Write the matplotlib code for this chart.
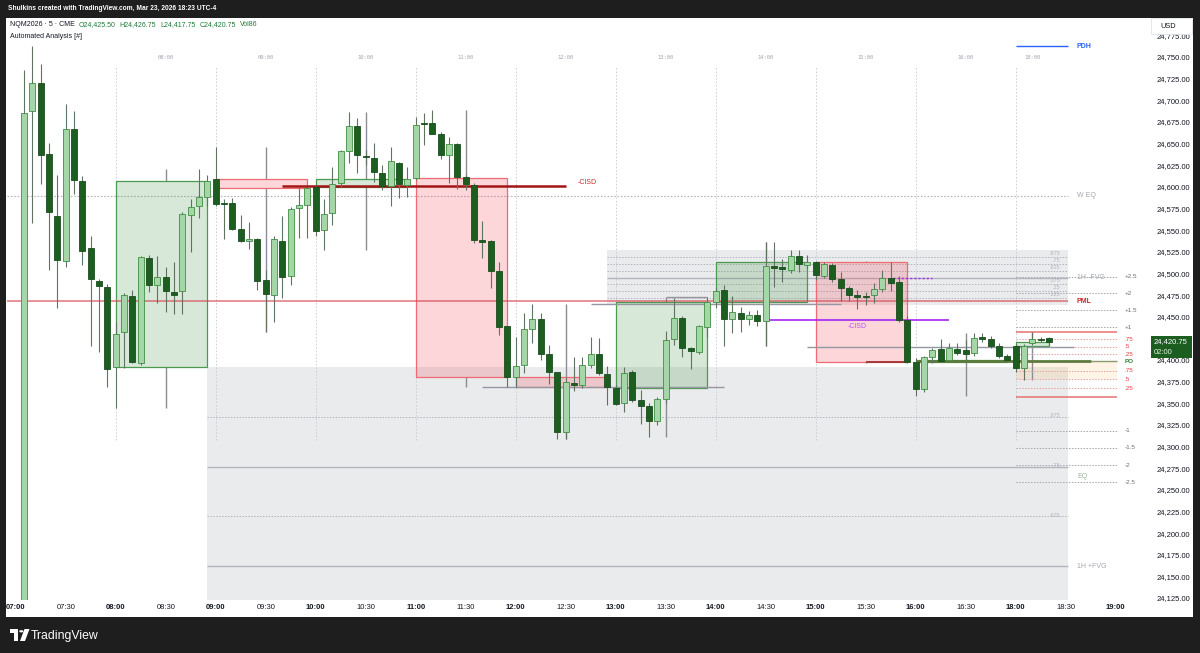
import matplotlib
matplotlib.use("Agg")
import matplotlib.pyplot as plt
from matplotlib.patches import Rectangle, Polygon, Circle
import numpy as np
import pandas as pd

plt.rcParams['font.family'] = ['Liberation Sans', 'DejaVu Sans']

# ---- data: NQM2026 5-minute bars (07:05 -> 16:55, then 18:00 -> 18:20) ----
times = ([t.strftime('%H:%M') for t in pd.date_range('07:05', '16:55', freq='5min')] +
         [t.strftime('%H:%M') for t in pd.date_range('18:00', '18:20', freq='5min')])

opens = [
    24090.0, 24688.0, 24719.6, 24637.6, 24566.6, 24514.7, 24666.8, 24606.7, 24529.3, 24491.5, 24483.9,
    24391.5, 24432.3, 24473.9, 24396.8, 24518.1, 24486.6, 24495.5, 24478.1, 24480.0, 24567.5, 24578.2, 24588.6,
    24608.7, 24581.0, 24581.0, 24550.9, 24537.1, 24540.3, 24492.4, 24475.0, 24537.8, 24497.0, 24575.2, 24578.7,
    24599.5, 24550.1, 24569.4, 24604.4, 24641.7, 24670.6, 24635.6, 24633.7, 24615.6, 24600.9, 24628.1, 24602.1,
    24610.5, 24672.9, 24673.4, 24661.4, 24636.4, 24649.1, 24611.0, 24601.8, 24537.4, 24537.1, 24502.4, 24438.9,
    24380.7, 24393.8, 24435.7, 24446.9, 24406.9, 24385.7, 24316.4, 24373.7, 24370.7, 24394.2, 24406.5, 24383.8,
    24367.9, 24349.9, 24386.4, 24353.7, 24347.1, 24329.8, 24354.5, 24423.8, 24448.8, 24414.2, 24408.8, 24438.4,
    24467.3, 24480.8, 24446.9, 24454.6, 24446.9, 24451.6, 24445.3, 24508.5, 24507.1, 24503.9, 24520.4, 24509.7,
    24513.5, 24497.3, 24509.7, 24493.2, 24482.8, 24474.5, 24473.3, 24475.0, 24481.6, 24494.3, 24489.7, 24446.1,
    24398.0, 24366.1, 24403.8, 24412.3, 24399.9, 24412.3, 24411.5, 24407.7, 24426.5, 24423.8, 24416.1, 24404.6,
    24416.1, 24390.3, 24419.9, 24423.8, 24425.5]
highs = [
    24735.0, 24762.7, 24741.9, 24650.3, 24613.7, 24695.7, 24687.6, 24612.5, 24543.2, 24493.5, 24488.1,
    24444.2, 24477.3, 24480.8, 24520.1, 24521.2, 24520.1, 24507.7, 24513.5, 24570.9, 24585.6, 24620.2, 24613.7,
    24646.4, 24586.3, 24586.7, 24567.5, 24559.7, 24540.9, 24503.9, 24543.2, 24566.3, 24577.0, 24598.3, 24599.0,
    24601.0, 24585.9, 24622.6, 24642.6, 24686.8, 24679.2, 24642.6, 24650.3, 24625.2, 24646.4, 24628.7, 24622.6,
    24680.3, 24684.9, 24688.7, 24663.7, 24657.9, 24650.3, 24613.7, 24604.1, 24560.9, 24538.6, 24512.8, 24439.2,
    24426.2, 24453.9, 24464.6, 24454.6, 24417.3, 24386.1, 24380.7, 24403.8, 24403.8, 24426.2, 24425.0, 24393.0,
    24371.1, 24392.2, 24388.4, 24365.3, 24350.3, 24357.2, 24433.8, 24471.2, 24450.8, 24415.3, 24440.4, 24473.1,
    24482.8, 24486.6, 24474.2, 24460.8, 24456.5, 24457.7, 24536.6, 24536.6, 24516.3, 24527.0, 24527.0, 24521.2,
    24514.7, 24513.5, 24512.0, 24501.3, 24485.4, 24480.8, 24478.5, 24488.5, 24503.9, 24513.5, 24497.0, 24450.8,
    24402.3, 24404.6, 24413.5, 24423.8, 24419.2, 24419.2, 24423.0, 24430.8, 24430.8, 24427.7, 24419.6, 24406.9,
    24418.4, 24418.4, 24431.9, 24426.5, 24426.75]
lows = [
    24085.0, 24558.6, 24603.3, 24503.9, 24460.4, 24507.7, 24591.4, 24509.4, 24416.1, 24408.8, 24369.1,
    24344.8, 24390.7, 24396.1, 24394.2, 24478.8, 24465.4, 24455.0, 24452.7, 24452.7, 24525.1, 24563.6, 24578.2,
    24577.9, 24539.4, 24550.1, 24536.3, 24528.2, 24480.8, 24431.9, 24443.5, 24471.2, 24486.6, 24540.9, 24540.5,
    24543.2, 24527.0, 24555.9, 24600.2, 24627.2, 24615.6, 24625.2, 24605.9, 24596.3, 24578.2, 24586.7, 24587.9,
    24607.9, 24648.3, 24661.0, 24632.2, 24604.8, 24597.1, 24596.3, 24534.8, 24517.4, 24482.8, 24428.8, 24369.1,
    24369.1, 24384.6, 24419.2, 24399.9, 24372.2, 24308.3, 24308.3, 24364.1, 24367.6, 24390.7, 24382.6, 24347.9,
    24347.9, 24340.2, 24351.4, 24326.0, 24310.6, 24324.8, 24350.3, 24417.3, 24403.8, 24389.2, 24406.9, 24426.9,
    24459.7, 24416.1, 24430.8, 24432.6, 24440.4, 24439.2, 24416.1, 24483.9, 24490.4, 24500.4, 24501.9, 24506.2,
    24492.4, 24494.7, 24490.0, 24468.5, 24468.5, 24458.8, 24463.5, 24465.4, 24478.5, 24480.0, 24443.8, 24396.5,
    24358.3, 24363.3, 24396.8, 24397.6, 24398.8, 24405.7, 24399.9, 24404.6, 24420.7, 24413.8, 24402.3, 24397.6,
    24386.4, 24376.8, 24417.3, 24420.7, 24417.75]
closes = [
    24685.0, 24719.6, 24636.8, 24570.9, 24515.5, 24666.8, 24608.2, 24525.5, 24493.5, 24485.8, 24389.2,
    24429.6, 24474.7, 24397.6, 24519.5, 24486.6, 24496.2, 24480.0, 24475.0, 24568.6, 24577.0, 24587.9, 24607.1,
    24579.8, 24580.2, 24551.3, 24537.4, 24539.7, 24491.2, 24475.8, 24539.4, 24495.5, 24574.4, 24578.7, 24598.3,
    24549.3, 24568.3, 24603.6, 24642.0, 24670.6, 24636.4, 24634.5, 24616.8, 24601.3, 24629.5, 24602.9, 24608.7,
    24671.4, 24672.2, 24661.4, 24636.4, 24649.1, 24611.0, 24602.9, 24538.6, 24536.6, 24503.1, 24438.4, 24379.9,
    24393.0, 24435.4, 24447.3, 24406.9, 24386.4, 24316.4, 24374.9, 24371.4, 24394.2, 24406.5, 24385.3, 24368.4,
    24348.8, 24385.3, 24353.7, 24347.1, 24329.8, 24354.5, 24423.0, 24448.8, 24413.5, 24410.0, 24439.2, 24467.3,
    24479.7, 24447.3, 24455.7, 24447.7, 24451.9, 24445.3, 24508.5, 24506.6, 24504.7, 24520.4, 24510.5, 24512.8,
    24498.1, 24510.9, 24493.2, 24482.8, 24475.0, 24473.3, 24472.2, 24481.6, 24494.3, 24489.3, 24446.1, 24398.0,
    24366.1, 24403.8, 24411.5, 24398.8, 24414.1, 24408.4, 24406.9, 24425.7, 24423.8, 24416.1, 24404.6, 24400.0,
    24391.0, 24416.1, 24423.8, 24422.7, 24420.75]

tick_times = ['07:00', '07:30', '08:00', '08:30', '09:00', '09:30', '10:00', '10:30', '11:00', '11:30',
              '12:00', '12:30', '13:00', '13:30', '14:00', '14:30', '15:00', '15:30', '16:00', '16:30',
              '18:00', '18:30', '19:00']
price_ticks = np.arange(24125, 24776, 25)

# levels drawn by the indicator
pdh = 24762.7
pml = 24468.1
w_eq = 24589.8
cisd_red = 24601.0
cisd_purple = 24446.1
purple_dots = 24494.3
fvg_bear = (24463.5, 24527.0)      # 1H -FVG
fvg_bull = (23932.0, 24391.9)      # 1H +FVG
liq_lines = [(24369.1, '11:40', '14:05'), (24464.6, '12:45', '15:15'),
             (24473.1, '13:30', '13:55'), (24415.5, '14:55', '18:35')]
sd_labels = ['+2.5', '+2', '+1.5', '+1', '-1', '-1.5', '-2', '-2.5']
sd_levels = [24496.2, 24477.0, 24457.7, 24437.7, 24318.3, 24298.6, 24278.6, 24258.7]
range_hi, range_lo, po_level = 24431.9, 24357.5, 24398.8
range_labels = ['.75', '.5', '.25', '.75', '.5', '.25']
range_levels = [24423.8, 24415.3, 24406.9, 24387.6, 24377.6, 24367.2]


def slot(hhmm):
    h, m = map(int, hhmm.split(':'))
    mins = h * 60 + m
    if h >= 18:
        return 120 + (mins - 18 * 60) / 5
    return (mins - 7 * 60) / 5


W, H = 1200, 653
fig = plt.figure(figsize=(W / 100, H / 100), dpi=100, facecolor='#1e1e1e')


def fx(px):
    return px / W


def fy(py):
    return 1 - py / H


# white chart panel
fig.patches.append(Rectangle((fx(6), fy(617)), fx(1193) - fx(6), fy(18) - fy(617),
                             transform=fig.transFigure, facecolor='white', edgecolor='none', zorder=-1))

ax = fig.add_axes([fx(7), fy(600), fx(1140) - fx(7), fy(18) - fy(600)])
ax.set_xlim(-1.044, 134.92)
ax.set_ylim(24122.7, 24795.1)
for s in ax.spines.values():
    s.set_visible(False)

x = np.array([slot(t) for t in times])
o, h, l, c = map(np.array, (opens, highs, lows, closes))
hours = np.array([int(t[:2]) for t in times])
x_end = slot('18:30') + 0.25
x_proj = slot('19:00') + 0.1

# 1H FVG zones with fib lines
for (lo, hi), x0, lab, fibs, solid in [
        (fvg_bull, slot('08:55'), '1H +FVG', [0.875, 0.75, 0.625, 0.5], (0.5, 0.75)),
        (fvg_bear, slot('12:55'), '1H -FVG', [0.875, 0.75, 0.625, 0.5, 0.375, 0.25, 0.125], (0.5,))]:
    ax.add_patch(Rectangle((x0, lo), x_end - x0, hi - lo, facecolor='#787b86', alpha=0.15,
                           edgecolor='none', zorder=1))
    for f in fibs:
        lv = lo + f * (hi - lo)
        if f in solid:
            ax.hlines(lv, x0, x_end, color='#b2b5be', lw=1.0, zorder=1.5)
        else:
            ax.hlines(lv, x0, x_end, color='#b2b5be', lw=0.7, ls=(0, (1.5, 1.5)), zorder=1.5)
        if f == 0.5:
            ax.text(x_end + 1.1, lv, lab, fontsize=5, color='#a3a6af', va='center')
        else:
            ax.text(x_end - 0.9, lv + 1.2, ('%g' % f).lstrip('0'), fontsize=4, color='#b2b5be',
                    ha='right', va='bottom' if lo > 24400 else 'center')

# hour separators and HTF (1H) candles
for hr in [8, 9, 10, 11, 12, 13, 14, 15, 16, 18]:
    idx = np.where(hours == hr)[0]
    x0, x1 = x[idx[0]], x[idx[-1]]
    xm = x[idx[0] + len(idx) // 2]
    ho, hc = o[idx[0]], c[idx[-1]]
    hh, hl = h[idx].max(), l[idx].min()
    ax.vlines(x0, 24307.5, 24738.8, color='#c9ccd3', lw=0.7, ls=(0, (1.5, 2)), zorder=1.2)
    ax.vlines(xm, max(ho, hc), hh, color='#8a8d96', lw=1.0, zorder=2)
    ax.vlines(xm, hl, min(ho, hc), color='#8a8d96', lw=1.0, zorder=2)
    if hc >= ho:
        fc, ec = '#388e3c', '#4c9a50'
    else:
        fc, ec = '#f23645', '#ef6b73'
    ax.add_patch(Rectangle((x0, min(ho, hc)), x1 - x0, max(abs(hc - ho), 0.8), facecolor=fc,
                           alpha=0.2, edgecolor='none', zorder=2.2))
    ax.add_patch(Rectangle((x0, min(ho, hc)), x1 - x0, max(abs(hc - ho), 0.8), facecolor='none',
                           edgecolor=ec, lw=0.9, zorder=2.3))
    ax.text(xm, 24750, '%02d:00' % hr, fontsize=4, color='#a3a6af', ha='center', va='center',
            family='DejaVu Sans Mono')

# horizontal levels
ax.hlines(w_eq, -1.1, x_end, color='#b2b5be', lw=0.8, ls=(0, (1.5, 1.5)), zorder=1.5)
ax.text(x_end + 1.1, w_eq, 'W EQ', fontsize=5, color='#a3a6af', va='center')
ax.hlines(pml, -1.1, x_end, color='#d64550', lw=1.1, alpha=0.75, zorder=3)
ax.text(x_end + 1.1, pml, 'PML', fontsize=5, color='#c62828', va='center', fontweight='bold')
ax.hlines(pdh, slot('18:00'), x_end, color='#2962ff', lw=1.0, zorder=3)
ax.text(x_end + 1.1, pdh, 'PDH', fontsize=5, color='#2962ff', va='center', fontweight='bold')
ax.text(x_end + 1.1, 24265.9, 'EQ', fontsize=5, color='#9bb59b', va='center')

ax.hlines(cisd_red, slot('09:40'), slot('12:30'), color='#a31515', lw=1.8, zorder=3)
ax.text(slot('12:30') + 1.4, cisd_red + 3.5, '-CISD', fontsize=5, color='#c62828', va='center')
ax.hlines(cisd_purple, slot('14:30'), slot('16:20'), color='#a626f2', lw=1.2, zorder=3)
ax.text(slot('15:25'), cisd_purple - 7.5, '-CISD', fontsize=5, color='#b455f0', ha='center', va='center')
ax.hlines(purple_dots, slot('15:45') + 0.3, slot('16:10'), color='#a626f2', lw=1.0,
          ls=(0, (1.5, 1.5)), zorder=3)

for lv, t0, t1 in liq_lines:
    ax.hlines(lv, slot(t0), slot(t1), color='#9598a1', lw=1.0, zorder=2.5)
ax.hlines(24398.0, slot('15:30'), slot('15:55'), color='#a33a3a', lw=1.4, zorder=2.6)

# right-hand projections
x_r0 = slot('18:00')
ax.add_patch(Rectangle((x_r0, range_levels[4]), x_proj - x_r0, po_level - range_levels[4],
                       facecolor='#ff9800', alpha=0.1, edgecolor='none', zorder=1.6))
for lab, lv in zip(sd_labels, sd_levels):
    ax.hlines(lv, x_r0, x_proj, color='#a3a6af', lw=0.7, ls=(0, (1.5, 1.5)), zorder=2)
    ax.text(x_proj + 1.0, lv, lab, fontsize=4.5, color='#6a6d78', va='center')
for lv in (range_hi, range_lo):
    ax.hlines(lv, x_r0, x_proj, color='#e57373', lw=1.1, zorder=2)
for lab, lv in zip(range_labels, range_levels):
    ax.hlines(lv, x_r0, x_proj, color='#e8a0a0', lw=0.7, ls=(0, (1.5, 1.5)), zorder=2)
    ax.text(x_proj + 1.0, lv, lab, fontsize=4.5, color='#e53935', va='center')
ax.hlines(po_level, slot('16:00'), slot('18:45'), color='#5c7a3c', lw=2.0, zorder=3)
ax.hlines(po_level, slot('18:45'), x_proj, color='#8a9a6a', lw=1.0, zorder=3)
ax.text(x_proj + 1.0, po_level, 'PO', fontsize=4.5, color='#2e7d32', va='center', fontweight='bold')

# candles
up = c >= o
body_lo = np.minimum(o, c)
body_h = np.maximum(np.abs(c - o), 1.6)
ax.vlines(x, l, h, color='#5f7360', lw=0.8, zorder=5)
ax.bar(x[up], body_h[up], bottom=body_lo[up], width=0.72, color='#a5d6a7',
       edgecolor='#3f8f43', linewidth=0.6, zorder=6)
ax.bar(x[~up], body_h[~up], bottom=body_lo[~up], width=0.72, color='#1b5e20',
       edgecolor='#1a4d1d', linewidth=0.6, zorder=6)

# axes ticks
ax.set_xticks([slot(t) for t in tick_times])
ax.set_xticklabels(tick_times, fontsize=5.5, color='#131722')
for lab, t in zip(ax.get_xticklabels(), tick_times):
    if t.endswith(':00'):
        lab.set_fontweight('bold')
ax.tick_params(axis='x', length=0, pad=3)
ax.yaxis.tick_right()
ax.set_yticks(price_ticks)
ax.set_yticklabels(['{:,.2f}'.format(p) for p in price_ticks], fontsize=5.5, color='#131722')
ax.tick_params(axis='y', length=0, pad=12)

# header / legend text
fig.text(fx(8), fy(9), 'Shulkins created with TradingView.com, Mar 23, 2026 18:23 UTC-4',
         fontsize=4.8, color='white', va='center', fontweight='bold')

narrow = ['Liberation Sans Narrow', 'Liberation Sans', 'DejaVu Sans']
renderer = fig.canvas.get_renderer()
xpos = fx(10)
for s, col in [('NQM2026 · 5 · CME', '#131722'), ('O24,425.50', '#1e7b34'), ('H24,426.75', '#1e7b34'),
               ('L24,417.75', '#1e7b34'), ('C24,420.75', '#1e7b34'), ('Vol86', '#1e7b34')]:
    t = fig.text(xpos, fy(25), s, fontsize=5.0, color=col, va='center', family=narrow)
    bb = t.get_window_extent(renderer)
    xpos = bb.x1 / W + fx(4)
fig.text(fx(10), fy(36), 'Automated Analysis [#]', fontsize=5.0, color='#131722', va='center',
         family=narrow)

# USD box and last price tag
fig.patches.append(Rectangle((fx(1151), fy(34)), fx(1192) - fx(1151), fy(18) - fy(34),
                             transform=fig.transFigure, facecolor='white', edgecolor='#e0e3eb',
                             lw=0.6, zorder=3))
fig.text(fx(1160), fy(26), 'USD', fontsize=5.3, color='#131722', va='center', zorder=4)
fig.patches.append(Rectangle((fx(1151), fy(358)), fx(1192) - fx(1151), fy(336) - fy(358),
                             transform=fig.transFigure, facecolor='#1b5e20', edgecolor='none', zorder=3))
fig.text(fx(1154), fy(342), '24,420.75', fontsize=5.5, color='white', va='center', zorder=4)
fig.text(fx(1154), fy(352), '02:00', fontsize=5.5, color='#e6efe6', va='center', zorder=4)

# footer logo
fig.patches.append(Rectangle((fx(10), fy(633)), fx(18) - fx(10), fy(629) - fy(633),
                             transform=fig.transFigure, facecolor='white', zorder=3))
fig.patches.append(Rectangle((fx(14), fy(641)), fx(18) - fx(14), fy(629) - fy(641),
                             transform=fig.transFigure, facecolor='white', zorder=3))
fig.patches.append(Circle((fx(21.3), fy(631.3)), 2.1 / W, transform=fig.transFigure,
                          facecolor='white', zorder=3))
fig.patches.append(Polygon([(fx(24.5), fy(629)), (fx(29.5), fy(629)), (fx(25), fy(641)), (fx(20), fy(641))],
                           closed=True, transform=fig.transFigure, facecolor='white', zorder=3))
fig.text(fx(31), fy(636), 'TradingView', fontsize=8.8, color='white', va='center')

fig.savefig('out.png', dpi=100, facecolor=fig.get_facecolor())
